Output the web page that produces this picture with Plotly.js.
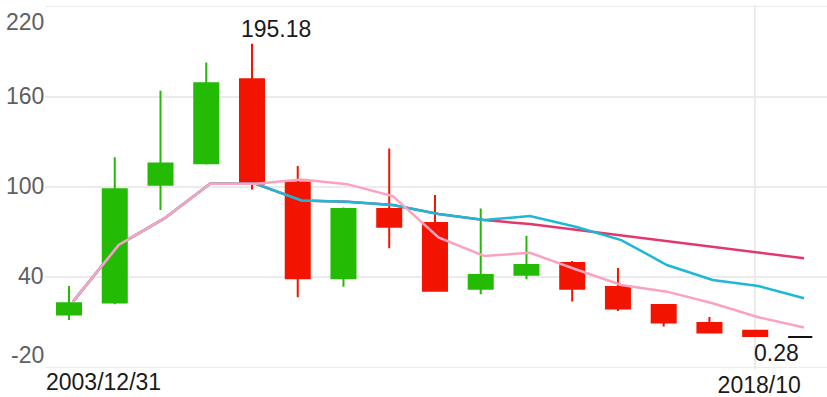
<!DOCTYPE html>
<html><head><meta charset="utf-8">
<script src="https://cdn.plot.ly/plotly-3.0.1.min.js"></script>
<style>html,body{margin:0;padding:0;background:#fff}#chart{width:827px;height:397px}</style>
</head><body><div id="chart"></div>
<script>
// yearly periods (candles)
const periods = ['2003','2004','2005','2006','2007','2008','2009','2010','2011','2012','2013','2014','2015','2016','2017','2018'];
const openV  = [15.17, 23.13, 101.57, 115.83, 171.57, 103.03, 39.32, 85.31, 76.02, 32.42, 41.71, 49.48, 33.55, 21.61, 9.66, 4.35];
const highV  = [34.21, 119.81, 164.07, 182.85, 195.18, 114.04, 86.44, 125.59, 94.6, 85.77, 67.39, 50.8, 46.16, 21.8, 13.64, 4.5];
const lowV   = [11.65, 22.07, 84.65, 114.97, 98.38, 26.72, 33.75, 59.23, 30.6, 28.71, 38.66, 23.8, 17.62, 7.21, 2.83, 0.28];
const closeV = [22.73, 98.58, 115.7, 168.92, 102.36, 39.32, 85.31, 73.56, 31.09, 41.51, 48.15, 32.42, 19.15, 9.86, 3.23, 0.9];

// moving-average lines (17 points each)
const maPink = [23.8, 61.42, 79.14, 102.1, 102.1, 105.02, 101.9, 93.94, 66.53, 54.12, 56.31, 45.3, 34.88, 30.43, 22.73, 13.44, 6.54];
const maBlue = [23.8, 61.42, 79.14, 102.1, 102.1, 91.08, 90.15, 87.96, 81.99, 78.01, 80.66, 73.56, 64.74, 48.15, 38.2, 34.21, 26.05];
const maRed  = [23.8, 61.42, 79.14, 102.1, 102.1, 91.08, 90.15, 87.96, 81.99, 78.01, 75.36, 71.57, 67.92, 64.01, 60.23, 56.58, 52.59];

const yTicks = [-20, 40, 100, 160, 220];
const xFirstLabel = '2003/12/31';
const xLastLabel = '2018/10';

const candleIdx = periods.map((_, i) => i);
const lineIdx = maPink.map((_, i) => i);

const GREEN = '#23bb04', RED = '#f21401';
const FONT = 'Liberation Sans, Arial, sans-serif';

const traces = [
  {
    type: 'candlestick', x: candleIdx, open: openV, high: highV, low: lowV, close: closeV,
    text: periods, hoverinfo: 'text',
    increasing: {line: {color: GREEN, width: 2}, fillcolor: GREEN},
    decreasing: {line: {color: RED, width: 2}, fillcolor: RED},
    whiskerwidth: 0, showlegend: false, xaxis: 'x', yaxis: 'y'
  },
  {type: 'scatter', mode: 'lines', x: lineIdx, y: maRed, xaxis: 'x2', yaxis: 'y',
   line: {color: '#e2386b', width: 2.5}, showlegend: false, hoverinfo: 'skip'},
  {type: 'scatter', mode: 'lines', x: lineIdx, y: maBlue, xaxis: 'x2', yaxis: 'y',
   line: {color: '#1cb8d6', width: 2.5}, showlegend: false, hoverinfo: 'skip'},
  {type: 'scatter', mode: 'lines', x: lineIdx, y: maPink, xaxis: 'x2', yaxis: 'y',
   line: {color: '#f9a3c0', width: 2.5}, showlegend: false, hoverinfo: 'skip'}
];

// extremes
let maxIdx = 0, minIdx = 0;
highV.forEach((v, i) => { if (v > highV[maxIdx]) maxIdx = i; });
lowV.forEach((v, i) => { if (v < lowV[minIdx]) minIdx = i; });
const lastIdx = periods.length - 1;

const annotations = [];
yTicks.forEach((t, i) => {
  annotations.push({
    xref: 'paper', yref: 'y', x: 0, y: t, xanchor: 'right',
    yanchor: i === yTicks.length - 1 ? 'top' : (i === 0 ? 'bottom' : 'middle'),
    yshift: i === 0 ? -2 : (i === yTicks.length - 1 ? 0 : 1),
    text: String(t), showarrow: false, xshift: 1,
    font: {family: FONT, size: 23, color: '#606060'}
  });
});
annotations.push({
  xref: 'paper', yref: 'paper', x: 0, y: 0, xanchor: 'left', yanchor: 'bottom',
  yshift: -27.5, xshift: -1, text: xFirstLabel, showarrow: false,
  font: {family: FONT, size: 23, color: '#1a1a1a'}
});
annotations.push({
  xref: 'x', yref: 'y', x: maxIdx, y: highV[maxIdx], xanchor: 'center', yanchor: 'bottom',
  xshift: 24, yshift: 0, text: highV[maxIdx].toFixed(2), showarrow: false,
  font: {family: FONT, size: 23, color: '#1a1a1a'}
});
annotations.push({
  xref: 'x', yref: 'y', x: minIdx, y: lowV[minIdx], xanchor: 'center', yanchor: 'top',
  xshift: 21, yshift: -1, text: lowV[minIdx].toFixed(2), showarrow: false,
  font: {family: FONT, size: 23, color: '#1a1a1a'}
});

const layout = {
  width: 827, height: 397,
  margin: {l: 45, r: 0, t: 4.5, b: 27.5, pad: 0},
  paper_bgcolor: '#ffffff', plot_bgcolor: '#ffffff',
  showlegend: false, boxgap: 0.475, boxgroupgap: 0,
  xaxis: {
    range: [-0.525, 16.57], fixedrange: true, rangeslider: {visible: false},
    tickmode: 'array', tickvals: [lastIdx], ticktext: [xLastLabel],
    showgrid: true, gridcolor: '#ebebeb', gridwidth: 1.6,
    zeroline: false, showline: false, ticks: '', ticklabelshift: 4,
    tickfont: {family: FONT, size: 23, color: '#1a1a1a'}
  },
  xaxis2: {
    overlaying: 'x', range: [-0.613, 16.503], visible: false, fixedrange: true
  },
  yaxis: {
    range: [yTicks[0] - 1, yTicks[yTicks.length - 1] + 1], fixedrange: true,
    tickmode: 'array', tickvals: yTicks, showticklabels: false,
    showgrid: true, gridcolor: '#ebebeb', gridwidth: 1.6,
    zeroline: false, showline: false, ticks: ''
  },
  shapes: [{
    type: 'line', xref: 'x', yref: 'y',
    x0: minIdx + 0.72, x1: minIdx + 1.25, y0: lowV[minIdx], y1: lowV[minIdx],
    line: {color: '#111111', width: 2}
  }],
  annotations: annotations
};

Plotly.newPlot('chart', traces, layout, {displayModeBar: false, staticPlot: true});
</script>
</body></html>
